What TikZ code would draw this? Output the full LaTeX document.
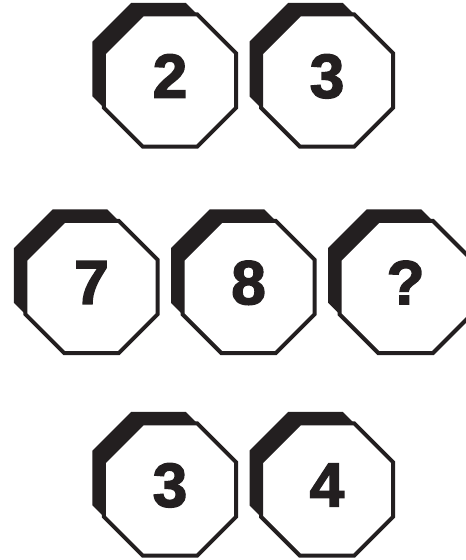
\documentclass[tikz,border=0pt]{standalone}
\usepackage{fontspec}
\setmainfont{Liberation Sans}
\newfontfamily\platefont[FakeBold=2.5]{Liberation Sans Bold}
\usetikzlibrary{shapes.geometric,shadows,positioning}
\definecolor{inkblack}{RGB}{35,31,32}

\begin{document}
\begin{tikzpicture}[x=1pt,y=1pt,node distance=21pt]
  \tikzstyle{plate}=[regular polygon,regular polygon sides=8,minimum size=142.9pt,inner sep=0pt,
    draw=inkblack,line width=4pt,fill=white,text=inkblack,font=\fontsize{62}{62}\platefont,
    text depth=9pt,drop shadow={shadow xshift=-11.5pt,shadow yshift=11.5pt,fill=inkblack,opacity=1}]
  \useasboundingbox (0,0) rectangle (466,560);

  % -- Top row --
  \node[plate] (t2) at (170,479.5) {2};
  \node[plate,right=of t2] (t3) {3};

  % -- Middle row (the one with the gap) --
  \node[plate] (m7) at (91.5,273) {7};
  \node[plate,right=of m7] (m8) {8};
  \node[plate,right=of m8] (mq) {?};

  % -- Bottom row --
  \node[plate] (b3) at (170,70.5) {3};
  \node[plate,right=of b3] (b4) {4};
\end{tikzpicture}
\end{document}
